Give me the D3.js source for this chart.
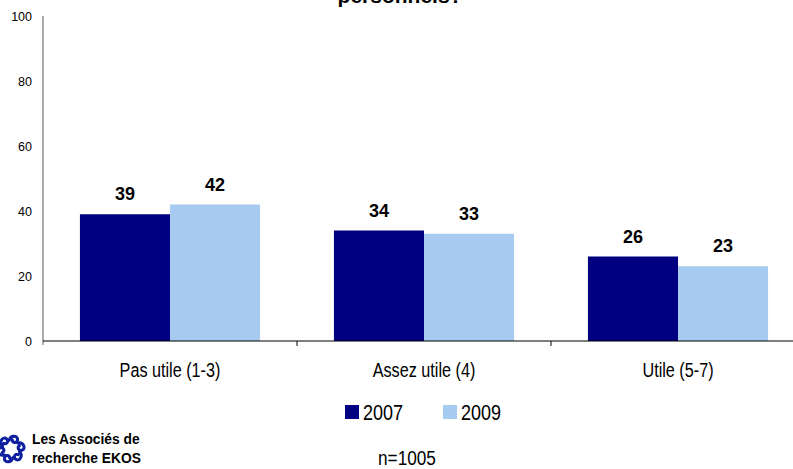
<!DOCTYPE html>
<html>
<head>
<meta charset="utf-8">
<script src="https://cdn.jsdelivr.net/npm/d3@7"></script>
<style>
  html, body { margin: 0; padding: 0; background: #fff; }
  svg { display: block; }
</style>
</head>
<body>
<svg id="chart" width="793" height="469"></svg>
<script>
// Survey data
const categories = ["Pas utile (1-3)", "Assez utile (4)", "Utile (5-7)"];
const seriesNames = ["2007", "2009"];
const values2007 = [39, 34, 26];
const values2009 = [42, 33, 23];
const yTicks = [0, 20, 40, 60, 80, 100];
const titleTail = "personnels?";
const sampleNote = "n=1005";
const colors = ["#000080", "#A6CAF0"];

const svg = d3.select("#chart");
const sans = "'Liberation Sans', Arial, sans-serif";

// Squeeze a text horizontally to mimic a narrow typeface
function condense(sel, k) {
  sel.each(function () {
    const w = this.getComputedTextLength();
    d3.select(this).attr("textLength", w * k).attr("lengthAdjust", "spacingAndGlyphs");
  });
}

const plotLeft = 43, plotBottom = 341, plotTop = 16;
const bandW = 254;

const x = d3.scaleBand().domain(categories)
  .range([plotLeft, plotLeft + bandW * categories.length]).paddingInner(0).paddingOuter(0);
const xs = d3.scaleBand().domain(seriesNames).range([0, x.bandwidth()]).paddingInner(0).paddingOuter(0.41);
const y = d3.scaleLinear().domain([0, 100]).range([plotBottom, plotTop]);

// Title (only its last line is within view)
svg.append("text")
  .attr("x", 400).attr("y", 3)
  .attr("text-anchor", "middle")
  .style("font-family", sans).style("font-weight", "bold").style("font-size", "21px")
  .text(titleTail);

// Bars
const data = categories.map((c, i) => ({ cat: c, vals: [values2007[i], values2009[i]] }));
const groups = svg.append("g").selectAll("g").data(data).join("g")
  .attr("transform", d => `translate(${x(d.cat)},0)`);

groups.selectAll("rect").data(d => d.vals.map((v, j) => ({ s: seriesNames[j], v, j })))
  .join("rect")
  .attr("x", d => xs(d.s))
  .attr("width", xs.bandwidth())
  .attr("y", d => y(d.v))
  .attr("height", d => y(0) - y(d.v))
  .attr("fill", d => colors[d.j]);

groups.selectAll("text.val").data(d => d.vals.map((v, j) => ({ s: seriesNames[j], v, j })))
  .join("text").attr("class", "val")
  .attr("x", d => xs(d.s) + xs.bandwidth() / 2)
  .attr("y", d => y(d.v) - 14)
  .attr("text-anchor", "middle")
  .style("font-family", sans).style("font-weight", "bold").style("font-size", "18px")
  .text(d => d.v);

// Y axis
const yAxis = d3.axisLeft(y).tickValues(yTicks).tickSize(0).tickPadding(11);
const gy = svg.append("g").attr("transform", `translate(${plotLeft},0)`).call(yAxis);
gy.select(".domain").attr("stroke", "#808080").attr("stroke-width", 1.3)
  .attr("d", `M0,${plotTop}V${plotBottom + 4}`);
gy.selectAll("text").style("font-family", sans).style("font-size", "12.5px").attr("fill", "#000");

// X axis
const xAxis = d3.axisBottom(x).tickSize(0).tickPadding(22);
const gx = svg.append("g").attr("transform", `translate(0,${plotBottom})`).call(xAxis);
gx.select(".domain").attr("stroke", "#000").attr("stroke-width", 1.2)
  .attr("d", `M${plotLeft},0H${plotLeft + bandW * 3}`);
gx.selectAll("text").style("font-family", sans).style("font-size", "19.5px").attr("fill", "#000")
  .call(condense, 0.83);
// Category separators
gx.selectAll("line.sep").data(categories.slice(1)).join("line").attr("class", "sep")
  .attr("x1", d => x(d)).attr("x2", d => x(d))
  .attr("y1", 0).attr("y2", 5).attr("stroke", "#000");

// Legend
const legendX = [345, 443];
const legend = svg.append("g").selectAll("g").data(seriesNames).join("g")
  .attr("transform", (d, i) => `translate(${legendX[i]},405)`);
legend.append("rect").attr("width", 14).attr("height", 14).attr("fill", (d, i) => colors[i]);
legend.append("text").attr("x", 18).attr("y", 14.5)
  .style("font-family", sans).style("font-size", "22.5px").text(d => d)
  .call(condense, 0.8);

// Sample size
svg.append("text").attr("x", 407).attr("y", 465).attr("text-anchor", "middle")
  .style("font-family", sans).style("font-size", "20px").text(sampleNote)
  .call(condense, 0.86);

// Logo mark: ring of hooked links
const logo = svg.append("g").attr("transform", "translate(11,449)");
const ringAngles = d3.range(6).map(i => i * 60 + 15);
logo.selectAll("path").data(ringAngles).join("path")
  .attr("transform", a => `rotate(${a}) translate(0,-9)`)
  .attr("d", "M-4,1 C-4,-5 4,-6 4,-1 C4,2 0,3 -1,0")
  .attr("fill", "none").attr("stroke", "#0d1f9e").attr("stroke-width", 3)
  .attr("stroke-linecap", "round");

svg.append("text").attr("x", 32).attr("y", 444)
  .style("font-family", sans).style("font-weight", "bold").style("font-size", "13.8px")
  .text("Les Associés de");
svg.append("text").attr("x", 32).attr("y", 463)
  .style("font-family", sans).style("font-weight", "bold").style("font-size", "13.8px")
  .text("recherche EKOS");
</script>
</body>
</html>
